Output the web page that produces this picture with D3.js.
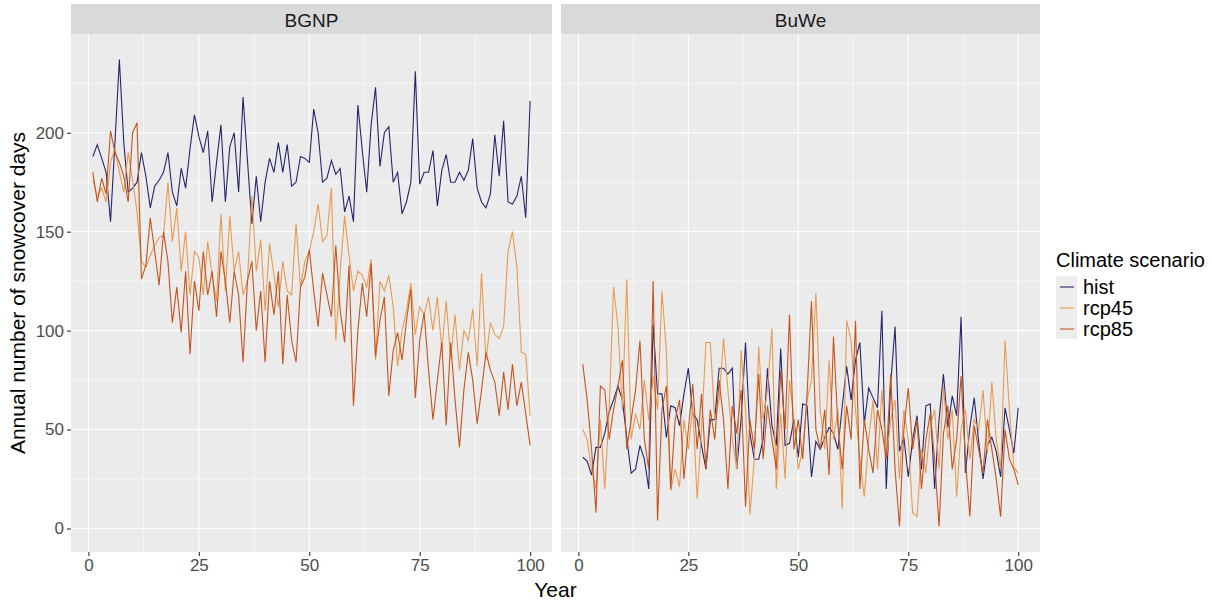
<!DOCTYPE html>
<html lang="en">
<head>
    <title>Annual snowcover days</title>
    <script src='https://d3js.org/d3.v7.min.js'></script>
    <style>
        body { margin: 0; background: #ffffff; }
        text { font-family: "Liberation Sans", Arial, sans-serif; }
    </style>
</head>
<body>

<script>

// panels, series, ticks
var sites = ["BGNP", "BuWe"];
var scenarios = ["hist", "rcp45", "rcp85"];
var colours = ["#25256e", "#e99a52", "#c6531c"];
var yTicks = [0, 50, 100, 150, 200];
var yMinor = [25, 75, 125, 175, 225];
var xTicks = [0, 25, 50, 75, 100];
var xMinor = [12.5, 37.5, 62.5, 87.5];

var years = d3.range(1, 101);

var bgnpHist = [188,194,187,180,155,195,237,195,170,172,175,190,178,162,173,176,180,190,170,163,
                182,172,192,209,198,190,201,165,185,204,165,193,200,170,218,186,154,178,155,175,
                187,180,195,180,194,173,175,188,187,185,212,200,175,177,186,179,182,160,168,155,
                214,191,170,204,223,183,200,203,175,180,159,165,175,231,174,180,180,191,163,181,
                189,175,175,180,176,181,197,172,165,162,169,199,178,206,165,164,168,178,157,216];

var bgnpRcp45 = [176,168,172,165,185,192,180,170,190,176,160,135,132,138,143,147,148,175,145,162,
                 130,150,118,140,137,118,145,128,115,159,120,158,130,140,118,125,168,130,146,110,
                 144,128,112,135,120,118,154,122,135,140,150,164,145,148,172,95,130,158,138,120,
                 130,128,122,136,85,125,120,128,112,82,100,110,124,98,112,108,117,100,117,90,
                 115,86,108,80,100,95,111,82,129,85,104,98,96,102,140,150,132,89,88,57];

var bgnpRcp85 = [180,165,177,169,201,190,185,178,165,200,205,126,133,157,140,123,150,135,104,122,
                 99,130,88,125,110,140,118,130,107,140,125,104,130,118,84,125,135,100,120,84,
                 125,108,130,83,118,95,84,122,127,141,120,102,129,118,107,143,110,94,133,62,
                 100,124,107,134,87,105,117,67,90,99,85,105,121,66,95,109,80,55,75,94,
                 52,94,65,41,70,89,75,53,70,89,80,74,57,79,60,83,62,74,58,42];

var buweHist = [36,34,27,41,41,48,59,65,72,65,46,28,30,42,35,20,103,68,68,46,
                62,61,52,68,81,58,55,42,30,55,55,81,81,78,81,30,55,94,48,35,
                35,45,81,52,42,91,42,43,55,36,63,62,26,44,40,46,51,48,40,62,
                82,65,85,94,53,71,66,61,110,20,73,102,39,46,26,45,57,30,62,63,
                20,55,78,51,67,57,107,28,51,66,44,25,42,46,39,26,61,50,38,61];

var buweRcp45 = [50,45,30,20,55,20,60,122,102,60,126,45,58,50,75,55,77,60,120,90,
                 19,30,21,55,40,62,15,50,94,94,55,65,96,70,45,30,90,60,7,35,
                 92,55,70,101,20,58,25,75,55,30,40,65,75,119,60,40,85,45,60,10,
                 105,95,60,35,16,45,65,30,70,35,55,65,25,60,45,8,6,40,28,52,
                 60,30,72,45,60,16,50,60,35,55,50,70,38,74,45,30,95,60,31,28];

var buweRcp85 = [83,65,40,8,72,70,45,60,72,85,40,55,70,95,45,30,125,4,60,72,
                 20,55,65,25,50,73,40,68,30,60,45,75,55,20,62,48,70,11,55,40,
                 78,35,62,45,30,80,50,108,40,55,35,68,115,50,40,60,27,97,52,30,
                 62,45,105,20,55,40,28,60,50,35,78,30,1,50,71,40,55,20,45,58,
                 35,1,48,62,30,45,77,35,6,52,40,28,55,40,25,6,50,35,30,22];

var seriesBySite = {
    BGNP: [bgnpHist, bgnpRcp45, bgnpRcp85],
    BuWe: [buweHist, buweRcp45, buweRcp85]
};

const width = 1212; const height = 605;
const panelTop = 34; const panelBottom = 552;
const stripTop = 4;
const panelX = [[71, 552], [561, 1040]];

const svg = d3.select("body")
            .append("svg")
            .attr("width", width)
            .attr("height", height);

var y = d3.scaleLinear()
    .domain([-11.9, 249.9])
    .range([panelBottom, panelTop]);

var colour = d3.scaleOrdinal(scenarios, colours);

sites.forEach(function(site, i) {
    var x0 = panelX[i][0], x1 = panelX[i][1];
    var x = d3.scaleLinear()
        .domain([-3.95, 104.95])
        .range([x0, x1]);

    var g = svg.append("g");

    // panel background
    g.append("rect")
        .attr("x", x0).attr("y", panelTop)
        .attr("width", x1 - x0).attr("height", panelBottom - panelTop)
        .attr("fill", "#ebebeb");

    // strip
    g.append("rect")
        .attr("x", x0).attr("y", stripTop)
        .attr("width", x1 - x0).attr("height", panelTop - stripTop)
        .attr("fill", "#d9d9d9");
    g.append("text")
        .attr("x", (x0 + x1) / 2).attr("y", 27)
        .attr("text-anchor", "middle")
        .attr("font-size", 19)
        .attr("fill", "#1a1a1a")
        .text(site);

    // grid
    g.selectAll(".ymin").data(yMinor).enter().append("line")
        .attr("x1", x0).attr("x2", x1)
        .attr("y1", d => y(d)).attr("y2", d => y(d))
        .attr("stroke", "#ffffff").attr("stroke-width", 0.55);
    g.selectAll(".xmin").data(xMinor).enter().append("line")
        .attr("y1", panelTop).attr("y2", panelBottom)
        .attr("x1", d => x(d)).attr("x2", d => x(d))
        .attr("stroke", "#ffffff").attr("stroke-width", 0.55);
    g.selectAll(".ymaj").data(yTicks).enter().append("line")
        .attr("x1", x0).attr("x2", x1)
        .attr("y1", d => y(d)).attr("y2", d => y(d))
        .attr("stroke", "#ffffff").attr("stroke-width", 1.1);
    g.selectAll(".xmaj").data(xTicks).enter().append("line")
        .attr("y1", panelTop).attr("y2", panelBottom)
        .attr("x1", d => x(d)).attr("x2", d => x(d))
        .attr("stroke", "#ffffff").attr("stroke-width", 1.1);

    // x axis
    var xAxis = g.append("g")
        .attr("transform", "translate(0," + panelBottom + ")")
        .call(d3.axisBottom(x).tickValues(xTicks).tickSize(4).tickPadding(3));
    xAxis.select(".domain").remove();
    xAxis.selectAll("line").attr("stroke", "#333333").attr("stroke-width", 1.1);
    xAxis.selectAll("text").attr("font-size", 17).attr("fill", "#4d4d4d")
        .attr("font-family", "Liberation Sans, Arial, sans-serif");

    // y axis only on first panel
    if (i == 0) {
        var yAxis = g.append("g")
            .attr("transform", "translate(" + x0 + ",0)")
            .call(d3.axisLeft(y).tickValues(yTicks).tickSize(4).tickPadding(3));
        yAxis.select(".domain").remove();
        yAxis.selectAll("line").attr("stroke", "#333333").attr("stroke-width", 1.1);
        yAxis.selectAll("text").attr("font-size", 17).attr("fill", "#4d4d4d")
            .attr("font-family", "Liberation Sans, Arial, sans-serif");
    }

    // lines
    var line = d3.line()
        .x((d, j) => x(years[j]))
        .y(d => y(d));

    var clip = "clip" + i;
    g.append("clipPath").attr("id", clip).append("rect")
        .attr("x", x0).attr("y", panelTop)
        .attr("width", x1 - x0).attr("height", panelBottom - panelTop);

    g.append("g").attr("clip-path", "url(#" + clip + ")")
        .selectAll("path")
        .data(seriesBySite[site])
        .enter()
        .append("path")
        .attr("d", d => line(d))
        .attr("fill", "none")
        .attr("stroke", (d, j) => colour(scenarios[j]))
        .attr("stroke-width", 1.1);
});

// axis titles
svg.append("text")
    .attr("x", (panelX[0][0] + panelX[1][1]) / 2).attr("y", 597)
    .attr("text-anchor", "middle")
    .attr("font-size", 21)
    .attr("fill", "#000000")
    .text("Year");

svg.append("text")
    .attr("transform", "translate(25," + (panelTop + panelBottom) / 2 + ") rotate(-90)")
    .attr("text-anchor", "middle")
    .attr("font-size", 21)
    .attr("fill", "#000000")
    .text("Annual number of snowcover days");

// legend
var legend = svg.append("g").attr("transform", "translate(1056,0)");
legend.append("text")
    .attr("x", 0).attr("y", 267)
    .attr("font-size", 20)
    .attr("fill", "#000000")
    .text("Climate scenario");

var keys = legend.selectAll(".key")
    .data(scenarios)
    .enter()
    .append("g")
    .attr("transform", (d, i) => "translate(0," + (276 + i * 21) + ")");

keys.append("rect")
    .attr("x", 0).attr("y", 0)
    .attr("width", 21).attr("height", 21)
    .attr("fill", "#ededed");
keys.append("line")
    .attr("x1", 4).attr("x2", 18)
    .attr("y1", 11).attr("y2", 11)
    .attr("stroke", d => colour(d))
    .attr("stroke-width", 1.1);
keys.append("text")
    .attr("x", 27).attr("y", 18)
    .attr("font-size", 20)
    .attr("fill", "#000000")
    .text(d => d);

</script>
</body>
</html>
